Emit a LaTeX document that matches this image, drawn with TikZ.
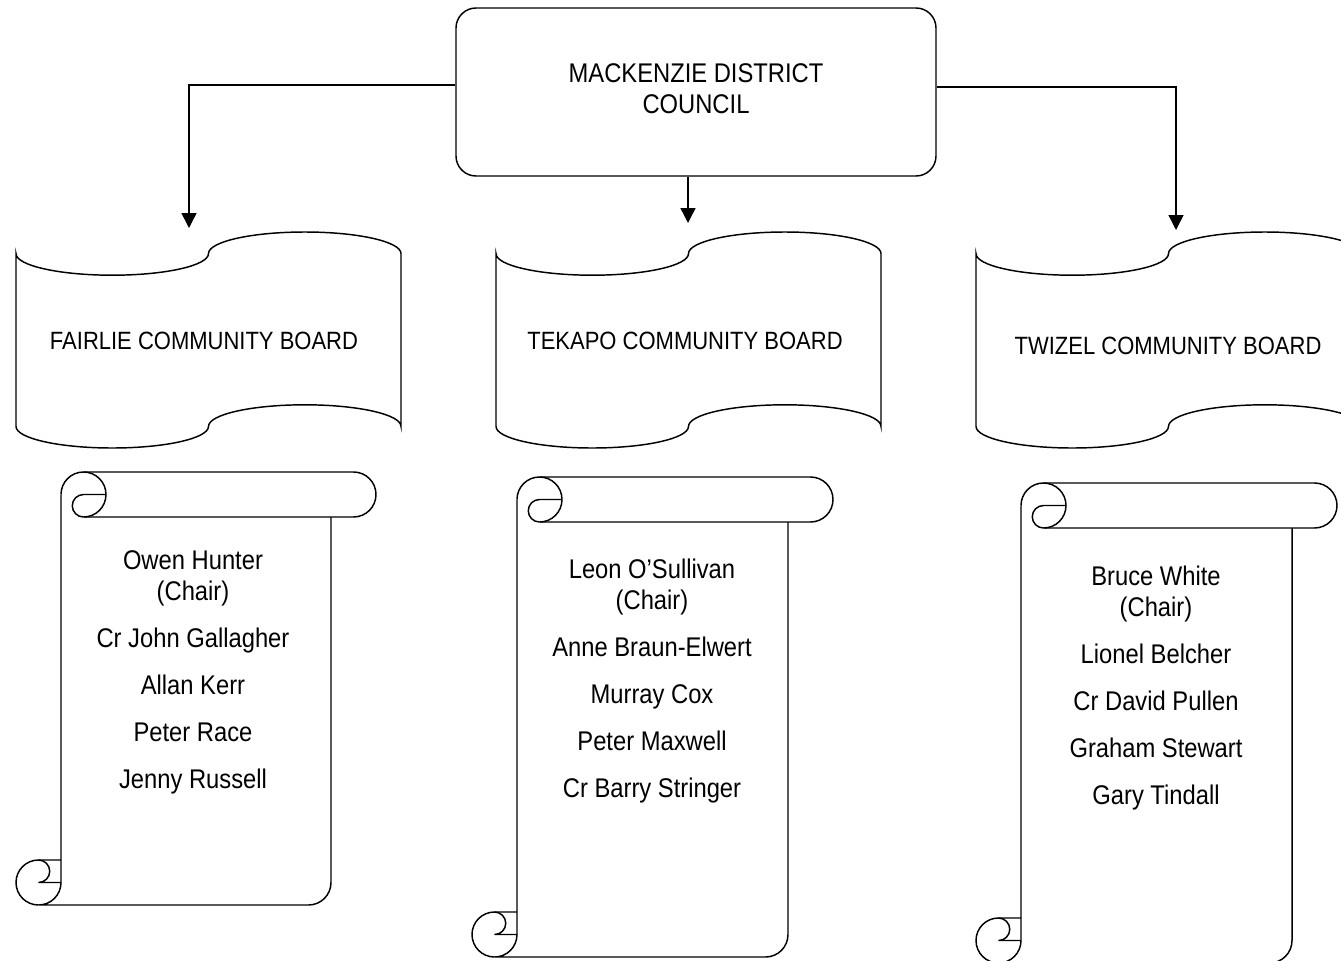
\documentclass[tikz,border=0pt]{standalone}
\usepackage{fontspec}
\setmainfont{Liberation Sans}[FakeStretch=0.88]
\usetikzlibrary{arrows.meta}

\tikzset{every picture/.style={line width=1.1pt}}
\tikzset{
  council/.style={draw, rounded corners=15pt, minimum width=360pt, minimum height=126pt, inner sep=0pt, align=center, text depth=4.5pt, font={\fontsize{20.25pt}{23.25pt}\selectfont}},
  boardname/.style={inner sep=0pt, font={\fontsize{18.75pt}{22pt}\selectfont}},
  members/.style={inner sep=0pt, align=center, font={\fontsize{20.25pt}{23.25pt}\selectfont}},
  link/.style={-{Triangle[length=11.25pt,width=11.25pt]}}
}

% punched tape outline, top left corner of its box at (#1,#2)
\newcommand{\boardtape}[2]{%
  \draw (#1,#2+21.6) arc[start angle=180,end angle=0,x radius=96.25,y radius=21.6]
    arc[start angle=180,end angle=360,x radius=96.25,y radius=21.6] -- ++(0,172.8)
    arc[start angle=0,end angle=-180,x radius=96.25,y radius=21.6]
    arc[start angle=0,end angle=180,x radius=96.25,y radius=21.6] -- cycle;
}

% scroll outline: body left #1, roll top #2, body right #3, bottom #4
\newcommand{\memberscroll}[4]{%
  \draw (#1,#2+22.5) arc[start angle=180,end angle=270,radius=22.5] -- (#3+22.5,#2)
    arc[start angle=270,end angle=450,radius=22.5] -- (#1+22.5,#2+45);
  \draw (#1+22.5,#2) arc[start angle=270,end angle=450,radius=22.5];
  \draw (#1+45,#2+22.5) -- (#1+22.5,#2+22.5) arc[start angle=270,end angle=90,radius=11.25];
  \draw (#1,#2+22.5) -- (#1,#4-22.5) arc[start angle=0,end angle=90,radius=22.5] -- (#3-22.5,#4)
    arc[start angle=90,end angle=0,radius=22.5] -- (#3,#2+45);
  \draw (#1-22.5,#4) arc[start angle=90,end angle=270,radius=22.5] -- (#1,#4-45);
  \draw (#1-22.5,#4-45) arc[start angle=270,end angle=450,radius=11.25] -- (#1,#4-22.5);
}

\begin{document}
\begin{tikzpicture}[x=0.75pt,y=0.75pt,yscale=-1,xscale=1]
  \clip (0,0) rectangle (1341,960);

  % council
  \node (council) [council] at (696,92) {MACKENZIE DISTRICT\\COUNCIL};

  % boards
  \boardtape{16}{232}
  \boardtape{496}{232}
  \boardtape{976}{232}
  \node (fairlie) [boardname] at (204,341) {FAIRLIE COMMUNITY BOARD};
  \node (tekapo) [boardname] at (685,341) {TEKAPO COMMUNITY BOARD};
  \node (twizel) [boardname] at (1168,346) {TWIZEL COMMUNITY BOARD};

  \coordinate (fairlie_in) at (189,228);
  \coordinate (tekapo_in) at (688,223);
  \coordinate (twizel_in) at (1176,230);

  \draw [link] ([yshift=-5.25pt]council.west) -| (fairlie_in);
  \draw [link] (council.south -| tekapo_in) -- (tekapo_in);
  \draw [link] ([yshift=-3.75pt]council.east) -| (twizel_in);

  % members
  \memberscroll{61}{472}{331}{905}
  \memberscroll{517}{477}{788}{957}
  \memberscroll{1021}{483}{1292}{963}

  \node (fairlie_members) [members] at (193,672) {Owen Hunter\\(Chair)\\[12pt]Cr John Gallagher\\[12pt]Allan Kerr\\[12pt]Peter Race\\[12pt]Jenny Russell};
  \node (tekapo_members) [members] at (652,681) {Leon O’Sullivan\\(Chair)\\[12pt]Anne Braun-Elwert\\[12pt]Murray Cox\\[12pt]Peter Maxwell\\[12pt]Cr Barry Stringer};
  \node (twizel_members) [members] at (1156,688) {Bruce White\\(Chair)\\[12pt]Lionel Belcher\\[12pt]Cr David Pullen\\[12pt]Graham Stewart\\[12pt]Gary Tindall};
\end{tikzpicture}
\end{document}
